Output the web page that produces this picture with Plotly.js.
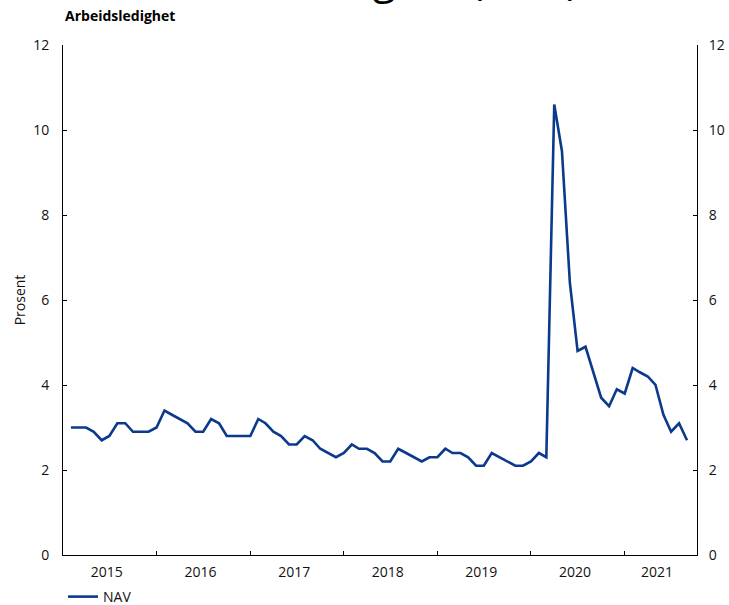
<!DOCTYPE html>
<html>
<head>
<meta charset="utf-8">
<script src="https://cdn.plot.ly/plotly-3.0.1.min.js"></script>
<style>
  html, body { margin: 0; padding: 0; background: #fff; }
  #chart { width: 729px; height: 605px; }
</style>
</head>
<body>
<div id="chart"></div>
<script>
// Months (monthly observations, Jan 2015 – Aug 2021)
const months = [
  "2015-01","2015-02","2015-03","2015-04","2015-05","2015-06","2015-07","2015-08","2015-09","2015-10","2015-11","2015-12",
  "2016-01","2016-02","2016-03","2016-04","2016-05","2016-06","2016-07","2016-08","2016-09","2016-10","2016-11","2016-12",
  "2017-01","2017-02","2017-03","2017-04","2017-05","2017-06","2017-07","2017-08","2017-09","2017-10","2017-11","2017-12",
  "2018-01","2018-02","2018-03","2018-04","2018-05","2018-06","2018-07","2018-08","2018-09","2018-10","2018-11","2018-12",
  "2019-01","2019-02","2019-03","2019-04","2019-05","2019-06","2019-07","2019-08","2019-09","2019-10","2019-11","2019-12",
  "2020-01","2020-02","2020-03","2020-04","2020-05","2020-06","2020-07","2020-08","2020-09","2020-10","2020-11","2020-12",
  "2021-01","2021-02","2021-03","2021-04","2021-05","2021-06","2021-07","2021-08"
];

// NAV registered unemployment, percent
const nav = [
  3.0, 3.0, 3.0, 2.9, 2.7, 2.8, 3.1, 3.1, 2.9, 2.9, 2.9, 3.0,
  3.4, 3.3, 3.2, 3.1, 2.9, 2.9, 3.2, 3.1, 2.8, 2.8, 2.8, 2.8,
  3.2, 3.1, 2.9, 2.8, 2.6, 2.6, 2.8, 2.7, 2.5, 2.4, 2.3, 2.4,
  2.6, 2.5, 2.5, 2.4, 2.2, 2.2, 2.5, 2.4, 2.3, 2.2, 2.3, 2.3,
  2.5, 2.4, 2.4, 2.3, 2.1, 2.1, 2.4, 2.3, 2.2, 2.1, 2.1, 2.2,
  2.4, 2.3, 10.6, 9.5, 6.4, 4.8, 4.9, 4.3, 3.7, 3.5, 3.9, 3.8,
  4.4, 4.3, 4.2, 4.0, 3.3, 2.9, 3.1, 2.7
];

// Axis labels
const yearLabels = ["2015","2016","2017","2018","2019","2020","2021"];
const yearLabelPos = ["2015-06-21","2016-06-21","2017-06-21","2018-06-21","2019-06-21","2020-06-21","2021-05-07"];
const yearBounds = ["2016-01-01","2017-01-01","2018-01-01","2019-01-01","2020-01-01","2021-01-01"];
const yTicks = [0, 2, 4, 6, 8, 10, 12];

const FONT = "Open Sans, DejaVu Sans, sans-serif";
const lineColor = "#0b3a8c";

const traces = [
  {
    type: "scatter",
    mode: "lines",
    name: "NAV",
    x: months,
    y: nav,
    xperiod: "M1",
    xperiodalignment: "end",
    line: { color: lineColor, width: 2.6 },
    hoverinfo: "x+y"
  },
  {
    // same series mirrored on the right-hand axis (invisible), so that axis is drawn
    type: "scatter",
    mode: "lines",
    name: "NAV (høyre akse)",
    x: months,
    y: nav,
    xperiod: "M1",
    xperiodalignment: "end",
    yaxis: "y2",
    line: { color: "rgba(0,0,0,0)", width: 0 },
    showlegend: false,
    hoverinfo: "skip"
  }
];

const layout = {
  width: 729,
  height: 605,
  margin: { l: 63, r: 32, t: 45, b: 50, pad: 0, autoexpand: false },
  paper_bgcolor: "#fff",
  plot_bgcolor: "#fff",
  font: { family: FONT, size: 14, color: "#111" },
  showlegend: true,
  legend: {
    orientation: "h",
    x: 0, xanchor: "left",
    y: -0.051, yanchor: "top",
    font: { family: FONT, size: 14, color: "#111" },
    bgcolor: "rgba(0,0,0,0)",
    itemwidth: 30
  },
  xaxis: {
    type: "date",
    range: ["2015-01-01", "2021-10-10"],
    showgrid: false,
    zeroline: false,
    showline: true,
    linecolor: "#000",
    linewidth: 1,
    tickmode: "array",
    tickvals: yearLabelPos,
    ticktext: yearLabels,
    ticks: "",
    ticklabelstandoff: 4,
    tickfont: { family: FONT, size: 14, color: "#111" },
    minor: {
      tickmode: "array",
      tickvals: yearBounds,
      ticks: "inside",
      ticklen: 4,
      tickwidth: 1,
      tickcolor: "#000",
      showgrid: false
    },
    fixedrange: true
  },
  yaxis: {
    range: [0, 12],
    showgrid: false,
    zeroline: false,
    showline: true,
    linecolor: "#000",
    linewidth: 1,
    tickmode: "array",
    tickvals: yTicks,
    ticks: "inside",
    ticklen: 4,
    tickwidth: 1,
    tickcolor: "#000",
    ticklabelstandoff: 10,
    tickfont: { family: FONT, size: 14, color: "#111" },
    title: { text: "Prosent", font: { family: FONT, size: 14, color: "#111" } },
    fixedrange: true
  },
  yaxis2: {
    overlaying: "y",
    side: "right",
    anchor: "x",
    range: [0, 12],
    showgrid: false,
    zeroline: false,
    showline: true,
    linecolor: "#000",
    linewidth: 1,
    tickmode: "array",
    tickvals: yTicks,
    ticks: "inside",
    ticklen: 4,
    tickwidth: 1,
    tickcolor: "#000",
    ticklabelstandoff: 8,
    tickfont: { family: FONT, size: 14, color: "#111" },
    fixedrange: true
  },
  annotations: [
    {
      text: "Arbeidsledighet",
      xref: "paper", yref: "paper",
      x: 0, xanchor: "left",
      y: 1.0569, yanchor: "middle",
      showarrow: false,
      font: { family: FONT, size: 14, color: "#000", weight: "bold" }
    },
    {
      text: "Arbeidsledighet (NAV)",
      xref: "paper", yref: "paper",
      x: 0.478, xanchor: "center",
      y: 1.0735, yanchor: "bottom",
      showarrow: false,
      font: { family: FONT, size: 42, color: "#000" }
    }
  ]
};

Plotly.newPlot("chart", traces, layout, { displayModeBar: false, staticPlot: true });
</script>
</body>
</html>
